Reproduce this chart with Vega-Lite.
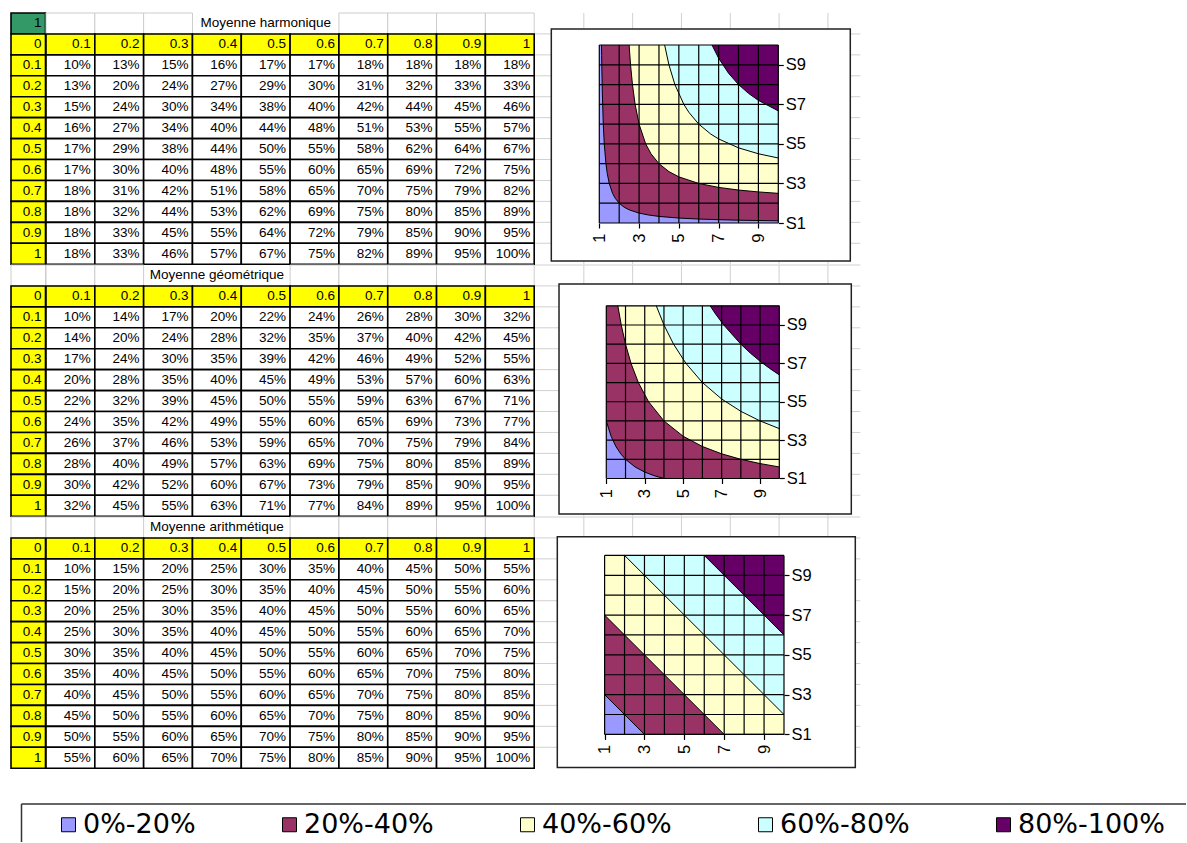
{
"$schema": "https://vega.github.io/schema/vega-lite/v6.json",
"background": "white",
"padding": {"left": 10, "top": 12, "right": 0, "bottom": 0},
"spacing": 34.5,
"config": {"view": {"stroke": null}, "text": {"font": "Liberation Sans"}},
"datasets": {
"rows": [{"r":"0"},{"r":"0.1"},{"r":"0.2"},{"r":"0.3"},{"r":"0.4"},{"r":"0.5"},{"r":"0.6"},{"r":"0.7"},{"r":"0.8"},{"r":"0.9"},{"r":"1"}],
"heads": [{"r":"0","c":"a1","label":"0.1"},{"r":"0","c":"a2","label":"0.2"},{"r":"0","c":"a3","label":"0.3"},{"r":"0","c":"a4","label":"0.4"},{"r":"0","c":"a5","label":"0.5"},{"r":"0","c":"a6","label":"0.6"},{"r":"0","c":"a7","label":"0.7"},{"r":"0","c":"a8","label":"0.8"},{"r":"0","c":"a9","label":"0.9"},{"r":"0","c":"a10","label":"1"}],
"idx": [{"i":1},{"i":2},{"i":3},{"i":4},{"i":5},{"i":6},{"i":7},{"i":8},{"i":9},{"i":10}],
"gv": [{"k":1},{"k":2},{"k":3},{"k":4},{"k":5},{"k":6}],
"gh1": [{"k":1},{"k":2},{"k":3},{"k":4},{"k":5},{"k":6},{"k":7},{"k":8},{"k":9},{"k":10},{"k":11}],
"gh0": [{"k":0},{"k":1},{"k":2},{"k":3},{"k":4},{"k":5},{"k":6},{"k":7},{"k":8},{"k":9},{"k":10},{"k":11}],
"harm": [
{"r":"0.1","a1":0.10,"a2":0.13,"a3":0.15,"a4":0.16,"a5":0.17,"a6":0.17,"a7":0.18,"a8":0.18,"a9":0.18,"a10":0.18},
{"r":"0.2","a1":0.13,"a2":0.20,"a3":0.24,"a4":0.27,"a5":0.29,"a6":0.30,"a7":0.31,"a8":0.32,"a9":0.33,"a10":0.33},
{"r":"0.3","a1":0.15,"a2":0.24,"a3":0.30,"a4":0.34,"a5":0.38,"a6":0.40,"a7":0.42,"a8":0.44,"a9":0.45,"a10":0.46},
{"r":"0.4","a1":0.16,"a2":0.27,"a3":0.34,"a4":0.40,"a5":0.44,"a6":0.48,"a7":0.51,"a8":0.53,"a9":0.55,"a10":0.57},
{"r":"0.5","a1":0.17,"a2":0.29,"a3":0.38,"a4":0.44,"a5":0.50,"a6":0.55,"a7":0.58,"a8":0.62,"a9":0.64,"a10":0.67},
{"r":"0.6","a1":0.17,"a2":0.30,"a3":0.40,"a4":0.48,"a5":0.55,"a6":0.60,"a7":0.65,"a8":0.69,"a9":0.72,"a10":0.75},
{"r":"0.7","a1":0.18,"a2":0.31,"a3":0.42,"a4":0.51,"a5":0.58,"a6":0.65,"a7":0.70,"a8":0.75,"a9":0.79,"a10":0.82},
{"r":"0.8","a1":0.18,"a2":0.32,"a3":0.44,"a4":0.53,"a5":0.62,"a6":0.69,"a7":0.75,"a8":0.80,"a9":0.85,"a10":0.89},
{"r":"0.9","a1":0.18,"a2":0.33,"a3":0.45,"a4":0.55,"a5":0.64,"a6":0.72,"a7":0.79,"a8":0.85,"a9":0.90,"a10":0.95},
{"r":"1","a1":0.18,"a2":0.33,"a3":0.46,"a4":0.57,"a5":0.67,"a6":0.75,"a7":0.82,"a8":0.89,"a9":0.95,"a10":1.00}],
"geo": [
{"r":"0.1","a1":0.10,"a2":0.14,"a3":0.17,"a4":0.20,"a5":0.22,"a6":0.24,"a7":0.26,"a8":0.28,"a9":0.30,"a10":0.32},
{"r":"0.2","a1":0.14,"a2":0.20,"a3":0.24,"a4":0.28,"a5":0.32,"a6":0.35,"a7":0.37,"a8":0.40,"a9":0.42,"a10":0.45},
{"r":"0.3","a1":0.17,"a2":0.24,"a3":0.30,"a4":0.35,"a5":0.39,"a6":0.42,"a7":0.46,"a8":0.49,"a9":0.52,"a10":0.55},
{"r":"0.4","a1":0.20,"a2":0.28,"a3":0.35,"a4":0.40,"a5":0.45,"a6":0.49,"a7":0.53,"a8":0.57,"a9":0.60,"a10":0.63},
{"r":"0.5","a1":0.22,"a2":0.32,"a3":0.39,"a4":0.45,"a5":0.50,"a6":0.55,"a7":0.59,"a8":0.63,"a9":0.67,"a10":0.71},
{"r":"0.6","a1":0.24,"a2":0.35,"a3":0.42,"a4":0.49,"a5":0.55,"a6":0.60,"a7":0.65,"a8":0.69,"a9":0.73,"a10":0.77},
{"r":"0.7","a1":0.26,"a2":0.37,"a3":0.46,"a4":0.53,"a5":0.59,"a6":0.65,"a7":0.70,"a8":0.75,"a9":0.79,"a10":0.84},
{"r":"0.8","a1":0.28,"a2":0.40,"a3":0.49,"a4":0.57,"a5":0.63,"a6":0.69,"a7":0.75,"a8":0.80,"a9":0.85,"a10":0.89},
{"r":"0.9","a1":0.30,"a2":0.42,"a3":0.52,"a4":0.60,"a5":0.67,"a6":0.73,"a7":0.79,"a8":0.85,"a9":0.90,"a10":0.95},
{"r":"1","a1":0.32,"a2":0.45,"a3":0.55,"a4":0.63,"a5":0.71,"a6":0.77,"a7":0.84,"a8":0.89,"a9":0.95,"a10":1.00}],
"arith": [
{"r":"0.1","a1":0.10,"a2":0.15,"a3":0.20,"a4":0.25,"a5":0.30,"a6":0.35,"a7":0.40,"a8":0.45,"a9":0.50,"a10":0.55},
{"r":"0.2","a1":0.15,"a2":0.20,"a3":0.25,"a4":0.30,"a5":0.35,"a6":0.40,"a7":0.45,"a8":0.50,"a9":0.55,"a10":0.60},
{"r":"0.3","a1":0.20,"a2":0.25,"a3":0.30,"a4":0.35,"a5":0.40,"a6":0.45,"a7":0.50,"a8":0.55,"a9":0.60,"a10":0.65},
{"r":"0.4","a1":0.25,"a2":0.30,"a3":0.35,"a4":0.40,"a5":0.45,"a6":0.50,"a7":0.55,"a8":0.60,"a9":0.65,"a10":0.70},
{"r":"0.5","a1":0.30,"a2":0.35,"a3":0.40,"a4":0.45,"a5":0.50,"a6":0.55,"a7":0.60,"a8":0.65,"a9":0.70,"a10":0.75},
{"r":"0.6","a1":0.35,"a2":0.40,"a3":0.45,"a4":0.50,"a5":0.55,"a6":0.60,"a7":0.65,"a8":0.70,"a9":0.75,"a10":0.80},
{"r":"0.7","a1":0.40,"a2":0.45,"a3":0.50,"a4":0.55,"a5":0.60,"a6":0.65,"a7":0.70,"a8":0.75,"a9":0.80,"a10":0.85},
{"r":"0.8","a1":0.45,"a2":0.50,"a3":0.55,"a4":0.60,"a5":0.65,"a6":0.70,"a7":0.75,"a8":0.80,"a9":0.85,"a10":0.90},
{"r":"0.9","a1":0.50,"a2":0.55,"a3":0.60,"a4":0.65,"a5":0.70,"a6":0.75,"a7":0.80,"a8":0.85,"a9":0.90,"a10":0.95},
{"r":"1","a1":0.55,"a2":0.60,"a3":0.65,"a4":0.70,"a5":0.75,"a6":0.80,"a7":0.85,"a8":0.90,"a9":0.95,"a10":1.00}],
"curves": [
{"m":"H","band":"20%-40%","x":1.111,"y":10},{"m":"H","band":"20%-40%","x":1.118,"y":9.47},{"m":"H","band":"20%-40%","x":1.125,"y":9},{"m":"H","band":"20%-40%","x":1.15,"y":7.667},{"m":"H","band":"20%-40%","x":1.2,"y":6},{"m":"H","band":"20%-40%","x":1.25,"y":5},{"m":"H","band":"20%-40%","x":1.333,"y":4},{"m":"H","band":"20%-40%","x":1.4,"y":3.5},{"m":"H","band":"20%-40%","x":1.5,"y":3},{"m":"H","band":"20%-40%","x":1.667,"y":2.5},{"m":"H","band":"20%-40%","x":1.8,"y":2.25},{"m":"H","band":"20%-40%","x":2,"y":2},{"m":"H","band":"20%-40%","x":2.25,"y":1.8},{"m":"H","band":"20%-40%","x":2.5,"y":1.667},{"m":"H","band":"20%-40%","x":3,"y":1.5},{"m":"H","band":"20%-40%","x":3.5,"y":1.4},{"m":"H","band":"20%-40%","x":4,"y":1.333},{"m":"H","band":"20%-40%","x":5,"y":1.25},{"m":"H","band":"20%-40%","x":6,"y":1.2},{"m":"H","band":"20%-40%","x":7,"y":1.167},{"m":"H","band":"20%-40%","x":8,"y":1.143},{"m":"H","band":"20%-40%","x":9,"y":1.125},{"m":"H","band":"20%-40%","x":10,"y":1.111},
{"m":"H","band":"40%-60%","x":2.5,"y":10},{"m":"H","band":"40%-60%","x":2.571,"y":9},{"m":"H","band":"40%-60%","x":2.667,"y":8},{"m":"H","band":"40%-60%","x":2.8,"y":7},{"m":"H","band":"40%-60%","x":3,"y":6},{"m":"H","band":"40%-60%","x":3.333,"y":5},{"m":"H","band":"40%-60%","x":3.6,"y":4.5},{"m":"H","band":"40%-60%","x":4,"y":4},{"m":"H","band":"40%-60%","x":4.5,"y":3.6},{"m":"H","band":"40%-60%","x":5,"y":3.333},{"m":"H","band":"40%-60%","x":6,"y":3},{"m":"H","band":"40%-60%","x":7,"y":2.8},{"m":"H","band":"40%-60%","x":8,"y":2.667},{"m":"H","band":"40%-60%","x":9,"y":2.571},{"m":"H","band":"40%-60%","x":10,"y":2.5},
{"m":"H","band":"60%-80%","x":4.286,"y":10},{"m":"H","band":"60%-80%","x":4.5,"y":9},{"m":"H","band":"60%-80%","x":4.8,"y":8},{"m":"H","band":"60%-80%","x":5.25,"y":7},{"m":"H","band":"60%-80%","x":5.5,"y":6.6},{"m":"H","band":"60%-80%","x":6,"y":6},{"m":"H","band":"60%-80%","x":6.6,"y":5.5},{"m":"H","band":"60%-80%","x":7,"y":5.25},{"m":"H","band":"60%-80%","x":8,"y":4.8},{"m":"H","band":"60%-80%","x":9,"y":4.5},{"m":"H","band":"60%-80%","x":10,"y":4.286},
{"m":"H","band":"80%-100%","x":6.667,"y":10},{"m":"H","band":"80%-100%","x":7,"y":9.333},{"m":"H","band":"80%-100%","x":7.5,"y":8.571},{"m":"H","band":"80%-100%","x":8,"y":8},{"m":"H","band":"80%-100%","x":8.5,"y":7.556},{"m":"H","band":"80%-100%","x":9,"y":7.2},{"m":"H","band":"80%-100%","x":10,"y":6.667},
{"m":"G","band":"20%-40%","x":1,"y":4},{"m":"G","band":"20%-40%","x":1.25,"y":3.2},{"m":"G","band":"20%-40%","x":1.5,"y":2.667},{"m":"G","band":"20%-40%","x":1.75,"y":2.286},{"m":"G","band":"20%-40%","x":2,"y":2},{"m":"G","band":"20%-40%","x":2.5,"y":1.6},{"m":"G","band":"20%-40%","x":3,"y":1.333},{"m":"G","band":"20%-40%","x":3.5,"y":1.143},{"m":"G","band":"20%-40%","x":4,"y":1},{"m":"G","band":"20%-40%","x":10,"y":1},
{"m":"G","band":"40%-60%","x":1.6,"y":10},{"m":"G","band":"40%-60%","x":1.778,"y":9},{"m":"G","band":"40%-60%","x":2,"y":8},{"m":"G","band":"40%-60%","x":2.286,"y":7},{"m":"G","band":"40%-60%","x":2.667,"y":6},{"m":"G","band":"40%-60%","x":3.2,"y":5},{"m":"G","band":"40%-60%","x":4,"y":4},{"m":"G","band":"40%-60%","x":5,"y":3.2},{"m":"G","band":"40%-60%","x":6,"y":2.667},{"m":"G","band":"40%-60%","x":7,"y":2.286},{"m":"G","band":"40%-60%","x":8,"y":2},{"m":"G","band":"40%-60%","x":9,"y":1.778},{"m":"G","band":"40%-60%","x":10,"y":1.6},
{"m":"G","band":"60%-80%","x":3.6,"y":10},{"m":"G","band":"60%-80%","x":4,"y":9},{"m":"G","band":"60%-80%","x":4.5,"y":8},{"m":"G","band":"60%-80%","x":5.143,"y":7},{"m":"G","band":"60%-80%","x":6,"y":6},{"m":"G","band":"60%-80%","x":7,"y":5.143},{"m":"G","band":"60%-80%","x":8,"y":4.5},{"m":"G","band":"60%-80%","x":9,"y":4},{"m":"G","band":"60%-80%","x":10,"y":3.6},
{"m":"G","band":"80%-100%","x":6.4,"y":10},{"m":"G","band":"80%-100%","x":6.7,"y":9.552},{"m":"G","band":"80%-100%","x":7.111,"y":9},{"m":"G","band":"80%-100%","x":8,"y":8},{"m":"G","band":"80%-100%","x":8.5,"y":7.529},{"m":"G","band":"80%-100%","x":9,"y":7.111},{"m":"G","band":"80%-100%","x":9.5,"y":6.737},{"m":"G","band":"80%-100%","x":10,"y":6.4},
{"m":"A","band":"20%-40%","x":1,"y":3},{"m":"A","band":"20%-40%","x":3,"y":1},{"m":"A","band":"20%-40%","x":10,"y":1},
{"m":"A","band":"40%-60%","x":1,"y":7},{"m":"A","band":"40%-60%","x":7,"y":1},{"m":"A","band":"40%-60%","x":10,"y":1},
{"m":"A","band":"60%-80%","x":2,"y":10},{"m":"A","band":"60%-80%","x":10,"y":2},
{"m":"A","band":"80%-100%","x":6,"y":10},{"m":"A","band":"80%-100%","x":10,"y":6}
]
},
"vconcat": [
{"concat": [
  {"width": 34.5, "height": 251.2, "layer": [
   {"data": {"values": [{"r":"t","label":"1"}]}, "layer": [
    {"mark": {"type":"rect","fill":"#339966","stroke":"#000","strokeWidth":1.6}, "encoding": {"x":{"value":0},"x2":{"value":"width"},"y":{"field":"r","type":"nominal","scale":{"domain":["t","0","0.1","0.2","0.3","0.4","0.5","0.6","0.7","0.8","0.9","1"],"paddingInner":0,"paddingOuter":0},"axis":null}}},
    {"mark": {"type":"text","align":"right","dx":-4,"fontSize":13.5,"color":"#000"}, "encoding": {"x":{"value":"width"},"y":{"field":"r","type":"nominal","axis":null},"text":{"field":"label","type":"nominal"}}}]},
   {"data": {"name": "rows"}, "layer": [
    {"mark": {"type":"rect","fill":"#FFFF00","stroke":"#000","strokeWidth":1.6}, "encoding": {"x":{"value":0},"x2":{"value":"width"},"y":{"field":"r","type":"nominal","axis":null}}},
    {"mark": {"type":"text","align":"right","dx":-4,"fontSize":13.5,"color":"#000"}, "encoding": {"x":{"value":"width"},"y":{"field":"r","type":"nominal","axis":null},"text":{"field":"r","type":"nominal"}}}]}
  ]},
  {"width": 488.2, "height": 251.2, "layer": [
   {"data": {"values": [{"r":"t","c":"a1"},{"r":"t","c":"a2"},{"r":"t","c":"a3"},{"r":"t","c":"a7"},{"r":"t","c":"a8"},{"r":"t","c":"a9"},{"r":"t","c":"a10"}]},
    "mark": {"type":"rect","fill":"white","stroke":"#cccccc","strokeWidth":1},
    "encoding": {"x":{"field":"c","type":"nominal","scale":{"domain":["a1","a2","a3","a4","a5","a6","a7","a8","a9","a10"],"paddingInner":0,"paddingOuter":0},"axis":null},"y":{"field":"r","type":"nominal","scale":{"domain":["t","0","0.1","0.2","0.3","0.4","0.5","0.6","0.7","0.8","0.9","1"],"paddingInner":0,"paddingOuter":0},"axis":null}}},
   {"data": {"name": "heads"}, "layer": [
    {"mark": {"type":"rect","fill":"#FFFF00","stroke":"#000","strokeWidth":1.6}, "encoding": {"x":{"field":"c","type":"nominal","axis":null},"y":{"field":"r","type":"nominal","axis":null}}},
    {"mark": {"type":"text","align":"right","dx":-4,"fontSize":13.5,"color":"#000"}, "encoding": {"x":{"field":"c","type":"nominal","bandPosition":1,"axis":null},"y":{"field":"r","type":"nominal","axis":null},"text":{"field":"label","type":"nominal"}}}]},
   {"data": {"name": "harm"}, "transform": [{"fold": ["a1","a2","a3","a4","a5","a6","a7","a8","a9","a10"], "as": ["c","v"]}], "layer": [
    {"mark": {"type":"rect","fill":"white","stroke":"#000","strokeWidth":1.6}, "encoding": {"x":{"field":"c","type":"nominal","axis":null},"y":{"field":"r","type":"nominal","axis":null}}},
    {"mark": {"type":"text","align":"right","dx":-4,"fontSize":13.5,"color":"#000"}, "encoding": {"x":{"field":"c","type":"nominal","bandPosition":1,"axis":null},"y":{"field":"r","type":"nominal","axis":null},"text":{"field":"v","type":"quantitative","format":".0%"}}}]},
   {"data": {"values": [{"r":"t","c":"a5","title":"Moyenne harmonique"}]}, "mark": {"type":"text","fontSize":13.5,"color":"#000"}, "encoding": {"x":{"field":"c","type":"nominal","axis":null},"y":{"field":"r","type":"nominal","axis":null},"text":{"field":"title","type":"nominal"}}}
  ]},
  {"width": 325.3, "height": 251.2, "resolve": {"scale": {"x": "independent", "y": "independent"}}, "layer": [
   {"layer": [
    {"data": {"name": "gv"}, "mark": {"type":"rule","color":"#d0d0d0","strokeWidth":1}, "encoding": {"x":{"field":"k","type":"quantitative","scale":{"domain":[0,6.663],"nice":false,"zero":false},"axis":null}}},
    {"data": {"name": "gh1"}, "mark": {"type":"rule","color":"#d0d0d0","strokeWidth":1}, "encoding": {"y":{"field":"k","type":"quantitative","scale":{"domain":[0,12],"nice":false,"zero":false,"reverse":true},"axis":null}}}
   ]},
   {"layer": [
    {"data": {"values": [{}]}, "mark": {"type":"rect","fill":"white","stroke":"#222","strokeWidth":1.5}, "encoding": {"x":{"datum":-1.413,"type":"quantitative","scale":{"domain":[-2.233,14.123],"nice":false,"zero":false}},"x2":{"datum":13.62},"y":{"datum":-0.921,"type":"quantitative","scale":{"domain":[-1.083,11.618],"nice":false,"zero":false}},"y2":{"datum":10.809}}},
    {"data": {"values": [{}]}, "mark": {"type":"rect","fill":"#9999FF"}, "encoding": {"x":{"datum":1,"type":"quantitative"},"x2":{"datum":10},"y":{"datum":1,"type":"quantitative"},"y2":{"datum":10}}},
    {"data": {"name": "curves"}, "transform": [{"filter": "datum.m == 'H'"}], "layer": [
     {"mark": {"type":"area","opacity":1,"orient":"vertical"}, "encoding": {"x":{"field":"x","type":"quantitative"},"y":{"field":"y","type":"quantitative","stack":null},"y2":{"datum":10},"color":{"field":"band","type":"nominal","scale":{"domain":["0%-20%","20%-40%","40%-60%","60%-80%","80%-100%"],"range":["#9999FF","#993366","#FFFFCC","#CCFFFF","#660066"]},"legend":{"orient":"none","legendX":44,"legendY":798,"direction":"horizontal","title":null,"symbolType":"square","symbolSize":196,"symbolStrokeColor":"#000","symbolStrokeWidth":1,"symbolOpacity":1,"labelFont":"DejaVu Sans","labelFontSize":27,"labelColor":"#000","labelOffset":1,"columnPadding":80,"labelLimit":400,"padding":0,"gridAlign":"each"}}}},
     {"mark": {"type":"line","color":"#000","strokeWidth":1}, "encoding": {"x":{"field":"x","type":"quantitative"},"y":{"field":"y","type":"quantitative"},"detail":{"field":"band","type":"nominal"}}}
    ]},
    {"data": {"name": "idx"}, "mark": {"type":"rule","color":"#000","strokeWidth":1.2}, "encoding": {"x":{"field":"i","type":"quantitative","axis":{"orient":"bottom","offset":-41.2,"values":[1,2,3,4,5,6,7,8,9,10],"labelExpr":"datum.value % 2 == 1 ? datum.label : ''","labelAngle":270,"labelFont":"Liberation Sans","labelFontSize":16.5,"labelColor":"#000","labelPadding":5,"labelFlush":false,"labelOverlap":false,"tickSize":5,"tickColor":"#000","tickWidth":1.2,"domain":false,"grid":false,"title":null,"zindex":1}},"y":{"datum":1,"type":"quantitative"},"y2":{"datum":10}}},
    {"data": {"name": "idx"}, "mark": {"type":"rule","color":"#000","strokeWidth":1.2}, "encoding": {"y":{"field":"i","type":"quantitative","axis":{"orient":"right","offset":-82,"values":[1,2,3,4,5,6,7,8,9,10],"labelExpr":"datum.value % 2 == 1 ? 'S' + datum.label : ''","labelFont":"Liberation Sans","labelFontSize":16.5,"labelColor":"#000","labelPadding":2,"labelFlush":false,"labelOverlap":false,"tickSize":5,"tickColor":"#000","tickWidth":1.2,"domain":false,"grid":false,"title":null,"zindex":1}},"x":{"datum":1,"type":"quantitative"},"x2":{"datum":10}}}
   ]}
  ]},
  {"width": 34.5, "height": 251.2, "layer": [
   {"data": {"values": [{"r":"t"}]}, "mark": {"type":"rect","fill":"white","stroke":"#cccccc","strokeWidth":1}, "encoding": {"x":{"value":0},"x2":{"value":"width"},"y":{"field":"r","type":"nominal","scale":{"domain":["t","0","0.1","0.2","0.3","0.4","0.5","0.6","0.7","0.8","0.9","1"],"paddingInner":0,"paddingOuter":0},"axis":null}}},
   {"data": {"name": "rows"}, "layer": [
    {"mark": {"type":"rect","fill":"#FFFF00","stroke":"#000","strokeWidth":1.6}, "encoding": {"x":{"value":0},"x2":{"value":"width"},"y":{"field":"r","type":"nominal","axis":null}}},
    {"mark": {"type":"text","align":"right","dx":-4,"fontSize":13.5,"color":"#000"}, "encoding": {"x":{"value":"width"},"y":{"field":"r","type":"nominal","axis":null},"text":{"field":"r","type":"nominal"}}}]}
  ]},
  {"width": 488.2, "height": 251.2, "layer": [
   {"data": {"values": [{"r":"t","c":"a1"},{"r":"t","c":"a2"},{"r":"t","c":"a6"},{"r":"t","c":"a7"},{"r":"t","c":"a8"},{"r":"t","c":"a9"},{"r":"t","c":"a10"}]},
    "mark": {"type":"rect","fill":"white","stroke":"#cccccc","strokeWidth":1},
    "encoding": {"x":{"field":"c","type":"nominal","scale":{"domain":["a1","a2","a3","a4","a5","a6","a7","a8","a9","a10"],"paddingInner":0,"paddingOuter":0},"axis":null},"y":{"field":"r","type":"nominal","scale":{"domain":["t","0","0.1","0.2","0.3","0.4","0.5","0.6","0.7","0.8","0.9","1"],"paddingInner":0,"paddingOuter":0},"axis":null}}},
   {"data": {"name": "heads"}, "layer": [
    {"mark": {"type":"rect","fill":"#FFFF00","stroke":"#000","strokeWidth":1.6}, "encoding": {"x":{"field":"c","type":"nominal","axis":null},"y":{"field":"r","type":"nominal","axis":null}}},
    {"mark": {"type":"text","align":"right","dx":-4,"fontSize":13.5,"color":"#000"}, "encoding": {"x":{"field":"c","type":"nominal","bandPosition":1,"axis":null},"y":{"field":"r","type":"nominal","axis":null},"text":{"field":"label","type":"nominal"}}}]},
   {"data": {"name": "geo"}, "transform": [{"fold": ["a1","a2","a3","a4","a5","a6","a7","a8","a9","a10"], "as": ["c","v"]}], "layer": [
    {"mark": {"type":"rect","fill":"white","stroke":"#000","strokeWidth":1.6}, "encoding": {"x":{"field":"c","type":"nominal","axis":null},"y":{"field":"r","type":"nominal","axis":null}}},
    {"mark": {"type":"text","align":"right","dx":-4,"fontSize":13.5,"color":"#000"}, "encoding": {"x":{"field":"c","type":"nominal","bandPosition":1,"axis":null},"y":{"field":"r","type":"nominal","axis":null},"text":{"field":"v","type":"quantitative","format":".0%"}}}]},
   {"data": {"values": [{"r":"t","c":"a4","title":"Moyenne géométrique"}]}, "mark": {"type":"text","fontSize":13.5,"color":"#000"}, "encoding": {"x":{"field":"c","type":"nominal","axis":null},"y":{"field":"r","type":"nominal","axis":null},"text":{"field":"title","type":"nominal"}}}
  ]},
  {"width": 325.3, "height": 251.2, "resolve": {"scale": {"x": "independent", "y": "independent"}}, "layer": [
   {"layer": [
    {"data": {"name": "gv"}, "mark": {"type":"rule","color":"#d0d0d0","strokeWidth":1}, "encoding": {"x":{"field":"k","type":"quantitative","scale":{"domain":[0,6.663],"nice":false,"zero":false},"axis":null}}},
    {"data": {"name": "gh0"}, "mark": {"type":"rule","color":"#d0d0d0","strokeWidth":1}, "encoding": {"y":{"field":"k","type":"quantitative","scale":{"domain":[0,12],"nice":false,"zero":false,"reverse":true},"axis":null}}}
   ]},
   {"layer": [
    {"data": {"values": [{}]}, "mark": {"type":"rect","fill":"white","stroke":"#222","strokeWidth":1.5}, "encoding": {"x":{"datum":-1.46,"type":"quantitative","scale":{"domain":[-2.709,14.214],"nice":false,"zero":false}},"x2":{"datum":13.746},"y":{"datum":-0.855,"type":"quantitative","scale":{"domain":[-0.965,12.126],"nice":false,"zero":false}},"y2":{"datum":11.131}}},
    {"data": {"values": [{}]}, "mark": {"type":"rect","fill":"#9999FF"}, "encoding": {"x":{"datum":1,"type":"quantitative"},"x2":{"datum":10},"y":{"datum":1,"type":"quantitative"},"y2":{"datum":10}}},
    {"data": {"name": "curves"}, "transform": [{"filter": "datum.m == 'G'"}], "layer": [
     {"mark": {"type":"area","opacity":1,"orient":"vertical"}, "encoding": {"x":{"field":"x","type":"quantitative"},"y":{"field":"y","type":"quantitative","stack":null},"y2":{"datum":10},"color":{"field":"band","type":"nominal","scale":{"domain":["0%-20%","20%-40%","40%-60%","60%-80%","80%-100%"],"range":["#9999FF","#993366","#FFFFCC","#CCFFFF","#660066"]},"legend":{"orient":"none","legendX":44,"legendY":798,"direction":"horizontal","title":null,"symbolType":"square","symbolSize":196,"symbolStrokeColor":"#000","symbolStrokeWidth":1,"symbolOpacity":1,"labelFont":"DejaVu Sans","labelFontSize":27,"labelColor":"#000","labelOffset":1,"columnPadding":80,"labelLimit":400,"padding":0,"gridAlign":"each"}}}},
     {"mark": {"type":"line","color":"#000","strokeWidth":1}, "encoding": {"x":{"field":"x","type":"quantitative"},"y":{"field":"y","type":"quantitative"},"detail":{"field":"band","type":"nominal"}}}
    ]},
    {"data": {"name": "idx"}, "mark": {"type":"rule","color":"#000","strokeWidth":1.2}, "encoding": {"x":{"field":"i","type":"quantitative","axis":{"orient":"bottom","offset":-37.7,"values":[1,2,3,4,5,6,7,8,9,10],"labelExpr":"datum.value % 2 == 1 ? datum.label : ''","labelAngle":270,"labelFont":"Liberation Sans","labelFontSize":16.5,"labelColor":"#000","labelPadding":5,"labelFlush":false,"labelOverlap":false,"tickSize":5,"tickColor":"#000","tickWidth":1.2,"domain":false,"grid":false,"title":null,"zindex":1}},"y":{"datum":1,"type":"quantitative"},"y2":{"datum":10}}},
    {"data": {"name": "idx"}, "mark": {"type":"rule","color":"#000","strokeWidth":1.2}, "encoding": {"y":{"field":"i","type":"quantitative","axis":{"orient":"right","offset":-81,"values":[1,2,3,4,5,6,7,8,9,10],"labelExpr":"datum.value % 2 == 1 ? 'S' + datum.label : ''","labelFont":"Liberation Sans","labelFontSize":16.5,"labelColor":"#000","labelPadding":2,"labelFlush":false,"labelOverlap":false,"tickSize":5,"tickColor":"#000","tickWidth":1.2,"domain":false,"grid":false,"title":null,"zindex":1}},"x":{"datum":1,"type":"quantitative"},"x2":{"datum":10}}}
   ]}
  ]},
  {"width": 34.5, "height": 251.2, "layer": [
   {"data": {"values": [{"r":"t"}]}, "mark": {"type":"rect","fill":"white","stroke":"#cccccc","strokeWidth":1}, "encoding": {"x":{"value":0},"x2":{"value":"width"},"y":{"field":"r","type":"nominal","scale":{"domain":["t","0","0.1","0.2","0.3","0.4","0.5","0.6","0.7","0.8","0.9","1"],"paddingInner":0,"paddingOuter":0},"axis":null}}},
   {"data": {"name": "rows"}, "layer": [
    {"mark": {"type":"rect","fill":"#FFFF00","stroke":"#000","strokeWidth":1.6}, "encoding": {"x":{"value":0},"x2":{"value":"width"},"y":{"field":"r","type":"nominal","axis":null}}},
    {"mark": {"type":"text","align":"right","dx":-4,"fontSize":13.5,"color":"#000"}, "encoding": {"x":{"value":"width"},"y":{"field":"r","type":"nominal","axis":null},"text":{"field":"r","type":"nominal"}}}]}
  ]},
  {"width": 488.2, "height": 251.2, "layer": [
   {"data": {"values": [{"r":"t","c":"a1"},{"r":"t","c":"a2"},{"r":"t","c":"a6"},{"r":"t","c":"a7"},{"r":"t","c":"a8"},{"r":"t","c":"a9"},{"r":"t","c":"a10"}]},
    "mark": {"type":"rect","fill":"white","stroke":"#cccccc","strokeWidth":1},
    "encoding": {"x":{"field":"c","type":"nominal","scale":{"domain":["a1","a2","a3","a4","a5","a6","a7","a8","a9","a10"],"paddingInner":0,"paddingOuter":0},"axis":null},"y":{"field":"r","type":"nominal","scale":{"domain":["t","0","0.1","0.2","0.3","0.4","0.5","0.6","0.7","0.8","0.9","1"],"paddingInner":0,"paddingOuter":0},"axis":null}}},
   {"data": {"name": "heads"}, "layer": [
    {"mark": {"type":"rect","fill":"#FFFF00","stroke":"#000","strokeWidth":1.6}, "encoding": {"x":{"field":"c","type":"nominal","axis":null},"y":{"field":"r","type":"nominal","axis":null}}},
    {"mark": {"type":"text","align":"right","dx":-4,"fontSize":13.5,"color":"#000"}, "encoding": {"x":{"field":"c","type":"nominal","bandPosition":1,"axis":null},"y":{"field":"r","type":"nominal","axis":null},"text":{"field":"label","type":"nominal"}}}]},
   {"data": {"name": "arith"}, "transform": [{"fold": ["a1","a2","a3","a4","a5","a6","a7","a8","a9","a10"], "as": ["c","v"]}], "layer": [
    {"mark": {"type":"rect","fill":"white","stroke":"#000","strokeWidth":1.6}, "encoding": {"x":{"field":"c","type":"nominal","axis":null},"y":{"field":"r","type":"nominal","axis":null}}},
    {"mark": {"type":"text","align":"right","dx":-4,"fontSize":13.5,"color":"#000"}, "encoding": {"x":{"field":"c","type":"nominal","bandPosition":1,"axis":null},"y":{"field":"r","type":"nominal","axis":null},"text":{"field":"v","type":"quantitative","format":".0%"}}}]},
   {"data": {"values": [{"r":"t","c":"a4","title":"Moyenne arithmétique"}]}, "mark": {"type":"text","fontSize":13.5,"color":"#000"}, "encoding": {"x":{"field":"c","type":"nominal","axis":null},"y":{"field":"r","type":"nominal","axis":null},"text":{"field":"title","type":"nominal"}}}
  ]},
  {"width": 325.3, "height": 251.2, "resolve": {"scale": {"x": "independent", "y": "independent"}}, "layer": [
   {"layer": [
    {"data": {"name": "gv"}, "mark": {"type":"rule","color":"#d0d0d0","strokeWidth":1}, "encoding": {"x":{"field":"k","type":"quantitative","scale":{"domain":[0,6.663],"nice":false,"zero":false},"axis":null}}},
    {"data": {"name": "gh0"}, "mark": {"type":"rule","color":"#d0d0d0","strokeWidth":1}, "encoding": {"y":{"field":"k","type":"quantitative","scale":{"domain":[0,12],"nice":false,"zero":false,"reverse":true},"axis":null}}}
   ]},
   {"layer": [
    {"data": {"values": [{}]}, "mark": {"type":"rect","fill":"white","stroke":"#222","strokeWidth":1.5}, "encoding": {"x":{"datum":-1.373,"type":"quantitative","scale":{"domain":[-2.492,13.828],"nice":false,"zero":false}},"x2":{"datum":13.577},"y":{"datum":-0.66,"type":"quantitative","scale":{"domain":[-0.699,11.931],"nice":false,"zero":false}},"y2":{"datum":10.941}}},
    {"data": {"values": [{}]}, "mark": {"type":"rect","fill":"#9999FF"}, "encoding": {"x":{"datum":1,"type":"quantitative"},"x2":{"datum":10},"y":{"datum":1,"type":"quantitative"},"y2":{"datum":10}}},
    {"data": {"name": "curves"}, "transform": [{"filter": "datum.m == 'A'"}], "layer": [
     {"mark": {"type":"area","opacity":1,"orient":"vertical"}, "encoding": {"x":{"field":"x","type":"quantitative"},"y":{"field":"y","type":"quantitative","stack":null},"y2":{"datum":10},"color":{"field":"band","type":"nominal","scale":{"domain":["0%-20%","20%-40%","40%-60%","60%-80%","80%-100%"],"range":["#9999FF","#993366","#FFFFCC","#CCFFFF","#660066"]},"legend":{"orient":"none","legendX":44,"legendY":798,"direction":"horizontal","title":null,"symbolType":"square","symbolSize":196,"symbolStrokeColor":"#000","symbolStrokeWidth":1,"symbolOpacity":1,"labelFont":"DejaVu Sans","labelFontSize":27,"labelColor":"#000","labelOffset":1,"columnPadding":80,"labelLimit":400,"padding":0,"gridAlign":"each"}}}},
     {"mark": {"type":"line","color":"#000","strokeWidth":1}, "encoding": {"x":{"field":"x","type":"quantitative"},"y":{"field":"y","type":"quantitative"},"detail":{"field":"band","type":"nominal"}}}
    ]},
    {"data": {"name": "idx"}, "mark": {"type":"rule","color":"#000","strokeWidth":1.2}, "encoding": {"x":{"field":"i","type":"quantitative","axis":{"orient":"bottom","offset":-33.8,"values":[1,2,3,4,5,6,7,8,9,10],"labelExpr":"datum.value % 2 == 1 ? datum.label : ''","labelAngle":270,"labelFont":"Liberation Sans","labelFontSize":16.5,"labelColor":"#000","labelPadding":5,"labelFlush":false,"labelOverlap":false,"tickSize":5,"tickColor":"#000","tickWidth":1.2,"domain":false,"grid":false,"title":null,"zindex":1}},"y":{"datum":1,"type":"quantitative"},"y2":{"datum":10}}},
    {"data": {"name": "idx"}, "mark": {"type":"rule","color":"#000","strokeWidth":1.2}, "encoding": {"y":{"field":"i","type":"quantitative","axis":{"orient":"right","offset":-76.3,"values":[1,2,3,4,5,6,7,8,9,10],"labelExpr":"datum.value % 2 == 1 ? 'S' + datum.label : ''","labelFont":"Liberation Sans","labelFontSize":16.5,"labelColor":"#000","labelPadding":2,"labelFlush":false,"labelOverlap":false,"tickSize":5,"tickColor":"#000","tickWidth":1.2,"domain":false,"grid":false,"title":null,"zindex":1}},"x":{"datum":1,"type":"quantitative"},"x2":{"datum":10}}}
   ]}
  ]}
], "columns": 3, "spacing": 0, "bounds": "flush"},
{"hconcat": [
 {"width": 1, "height": 1, "data": {"values": [{}]}, "mark": {"type":"text","text":"","fontSize":1,"baseline":"top"}},
 {"width": 1165, "height": 38, "data": {"values": [{"k":1}]}, "mark": {"type":"text","text":"","fontSize":1,"baseline":"top"},
  "encoding": {
   "x": {"field":"k","type":"quantitative","scale":{"domain":[0,1]},"axis":{"orient":"top","domainColor":"#333","domainWidth":1.5,"ticks":false,"labels":false,"grid":false,"title":null}},
   "y": {"field":"k","type":"quantitative","scale":{"domain":[0,1]},"axis":{"orient":"left","domainColor":"#333","domainWidth":1.5,"ticks":false,"labels":false,"grid":false,"title":null}}}}
], "spacing": 9, "bounds": "flush"}
]
}
